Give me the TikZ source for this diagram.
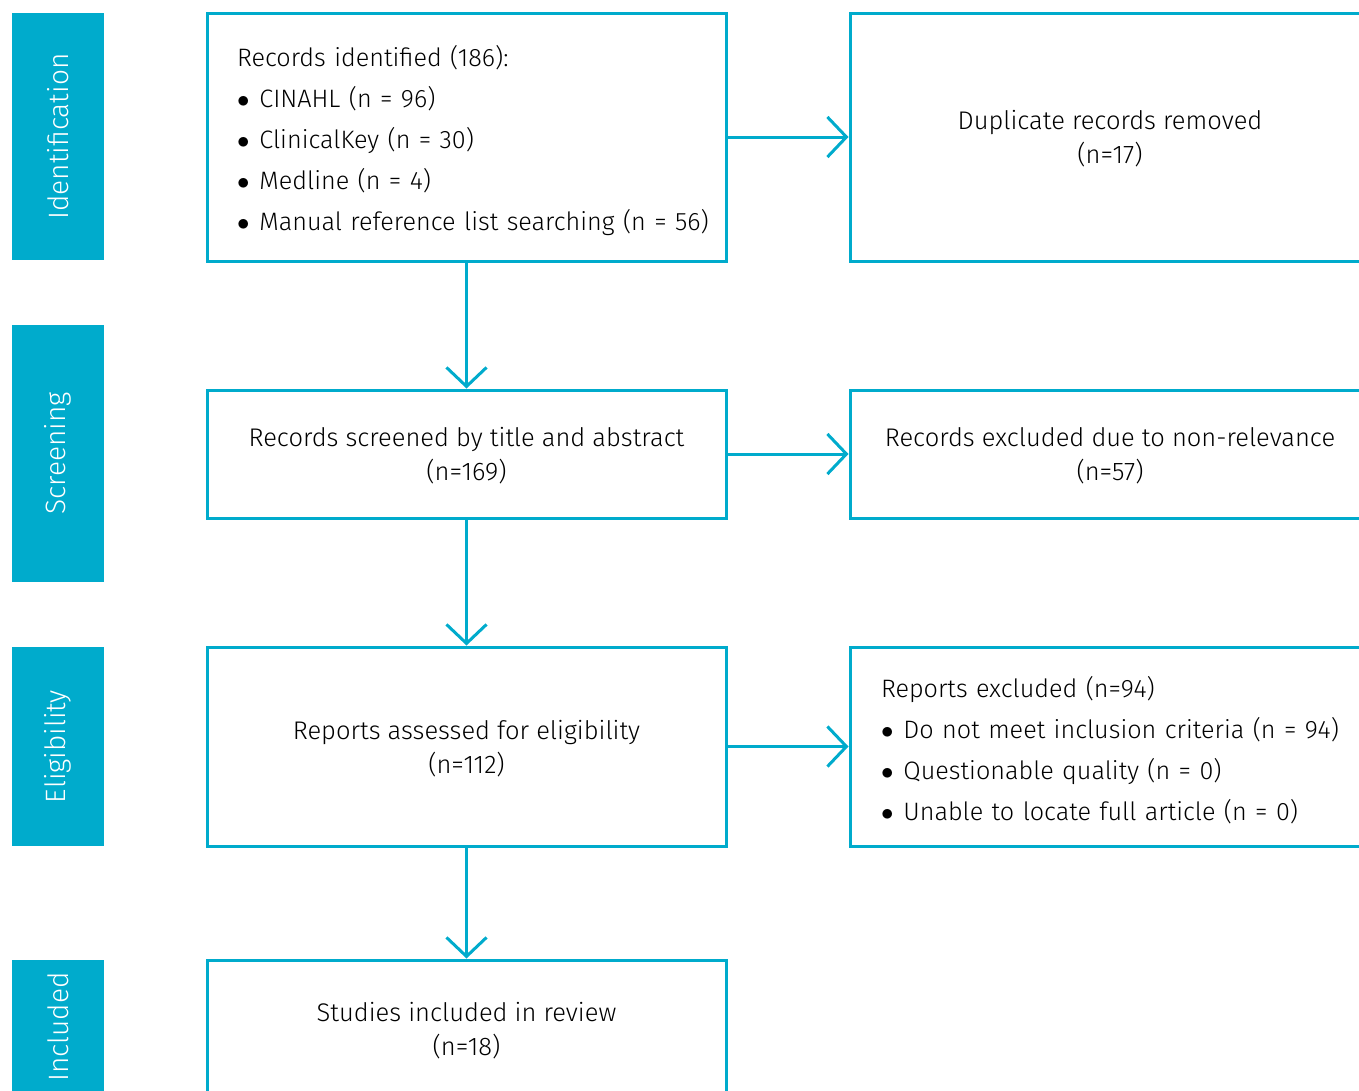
\documentclass[tikz,border=0pt]{standalone}
\usepackage{fontspec}
\setmainfont{Fira Sans}[UprightFont=* Light]
\usetikzlibrary{positioning,arrows.meta}
\definecolor{prismablue}{HTML}{00ABCC}
\newcommand{\bul}[1]{\mbox{$\bullet$\hspace{10pt}#1}}

\begin{document}
\begin{tikzpicture}[x=1pt,y=-1pt,
  phase/.style={fill=prismablue, rotate=90, minimum height=92pt, inner sep=0pt,
    text=white, font=\fontsize{28}{32}\selectfont},
  box/.style={draw=prismablue, line width=3pt, minimum width=519pt, inner sep=0pt},
  cbox/.style={box, align=center, text depth=-12pt, font=\fontsize{25.5}{34}\selectfont},
  listbox/.style={box, align=left, text width=459pt, inner xsep=30pt, text height=28pt,
    font=\fontsize{25.2}{41}\selectfont},
  flow/.style={draw=prismablue, line width=3pt, -{Straight Barb[length=19pt,width=40pt,line width=3pt]}}]
\useasboundingbox (0,0) rectangle (1359,1090);
\clip (0,0) rectangle (1359,1090);

% phases
\node[phase, minimum width=247pt] (pident) at (58,136.5) {Identification};
\node[phase, minimum width=257pt] (pscreen) at (58,453.5) {Screening};
\node[phase, minimum width=199pt] (pelig) at (58,746.5) {Eligibility};
\node[phase, minimum width=134pt] (pincl) at (58,1027) {Included};

% left column
\node[listbox, minimum height=248pt] (ident) at (466.5,137) {Records identified (186):\\
  \bul{CINAHL (n = 96)}\\
  \bul{ClinicalKey (n = 30)}\\
  \bul{Medline (n = 4)}\\
  \bul{Manual reference list searching (n = 56)}};
\node[cbox, minimum height=128pt] (screen) at (466.5,454) {Records screened by title and abstract\\(n=169)};
\node[cbox, minimum height=199pt] (elig) at (466.5,746.5) {Reports assessed for eligibility\\(n=112)};
\node[cbox, minimum height=138pt] (incl) at (466.5,1029) {Studies included in review\\(n=18)};

% right column
\node[cbox, minimum width=520pt, minimum height=248pt] (dup) at (1110,137) {Duplicate records removed\\(n=17)};
\node[cbox, minimum width=520pt, minimum height=128pt] (nonrel) at (1110,454) {Records excluded due to non-relevance\\(n=57)};
\node[listbox, text width=458pt, inner xsep=31pt, minimum height=199pt] (excl) at (1110,746.5) {Reports excluded (n=94)\\
  \bul{Do not meet inclusion criteria (n = 94)}\\
  \bul{Questionable quality (n = 0)}\\
  \bul{Unable to locate full article (n = 0)}};

% arrows
\draw[flow] (ident.east) -- (dup.west);
\draw[flow] (screen.east) -- (nonrel.west);
\draw[flow] (elig.east) -- (excl.west);
\draw[flow] (ident.south) -- (screen.north);
\draw[flow] (screen.south) -- (elig.north);
\draw[flow] (elig.south) -- (incl.north);
\end{tikzpicture}
\end{document}
